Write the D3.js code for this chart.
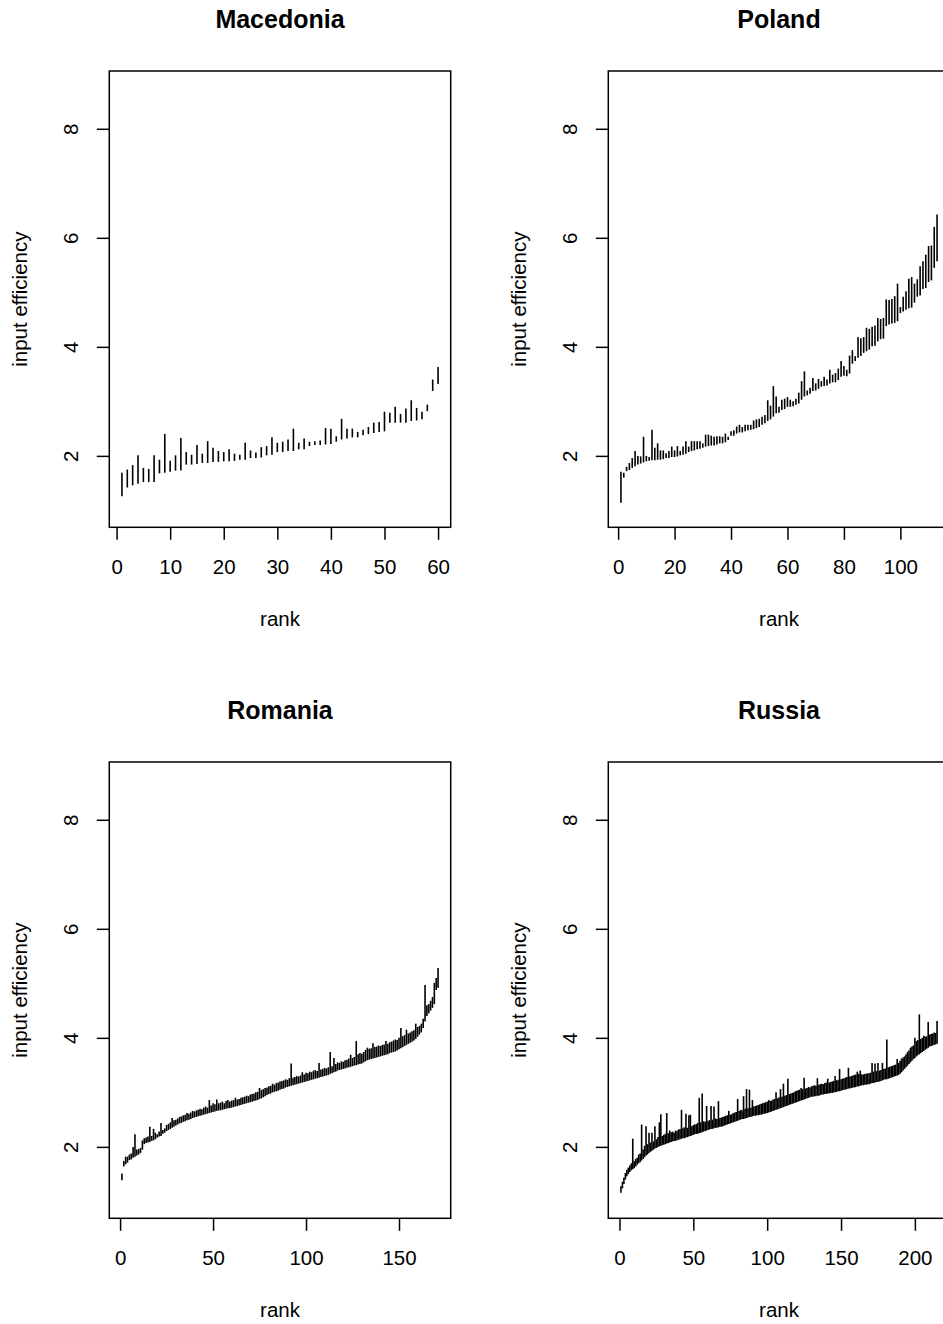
<!DOCTYPE html>
<html>
<head>
<meta charset="utf-8">
<script src="https://cdn.jsdelivr.net/npm/d3@7"></script>
<style>
  html, body { margin: 0; padding: 0; background: #fff; overflow: hidden; }
  svg { display: block; font-family: "Liberation Sans", Arial, Helvetica, sans-serif; }
</style>
</head>
<body>
<svg id="chart" width="943" height="1324"></svg>
<script>
// Interval per rank: lower / upper input efficiency

const countries = ["Macedonia", "Poland", "Romania", "Russia"]

const macedoniaLo = [
  1.26, 1.42, 1.46, 1.49, 1.52, 1.52, 1.52, 1.68, 1.69, 1.71,
  1.73, 1.73, 1.84, 1.84, 1.85, 1.87, 1.87, 1.89, 1.89, 1.90,
  1.90, 1.91, 1.93, 1.93, 1.96, 1.96, 1.97, 2.01, 2.02, 2.07,
  2.07, 2.09, 2.09, 2.12, 2.12, 2.18, 2.20, 2.20, 2.21, 2.22,
  2.26, 2.30, 2.32, 2.34, 2.34, 2.38, 2.40, 2.42, 2.44, 2.45,
  2.61, 2.61, 2.61, 2.61, 2.64, 2.65, 2.67, 2.82, 3.19, 3.32
]
const macedoniaHi = [
  1.69, 1.75, 1.83, 2.01, 1.78, 1.76, 2.01, 1.93, 2.40, 1.91,
  2.01, 2.33, 2.07, 2.02, 2.20, 2.04, 2.27, 2.15, 2.09, 2.07,
  2.12, 2.04, 2.02, 2.24, 2.10, 2.06, 2.16, 2.18, 2.34, 2.24,
  2.26, 2.30, 2.50, 2.24, 2.32, 2.26, 2.27, 2.28, 2.51, 2.50,
  2.36, 2.68, 2.50, 2.50, 2.44, 2.48, 2.53, 2.61, 2.62, 2.81,
  2.79, 2.90, 2.77, 2.87, 3.02, 2.88, 2.81, 2.94, 3.40, 3.63
]

const polandLo = [
  1.14, 1.60, 1.72, 1.74, 1.78, 1.81, 1.84, 1.86, 1.88, 1.90,
  1.91, 1.92, 1.92, 1.93, 1.93, 1.94, 1.96, 1.96, 1.98, 1.98,
  1.99, 2.01, 2.02, 2.04, 2.07, 2.09, 2.10, 2.12, 2.13, 2.15,
  2.17, 2.18, 2.19, 2.19, 2.21, 2.23, 2.23, 2.25, 2.29, 2.37,
  2.37, 2.41, 2.43, 2.43, 2.45, 2.47, 2.48, 2.49, 2.51, 2.53,
  2.57, 2.60, 2.64, 2.67, 2.72, 2.78, 2.79, 2.84, 2.86, 2.90,
  2.90, 2.91, 2.94, 2.96, 3.03, 3.09, 3.11, 3.14, 3.19, 3.20,
  3.23, 3.27, 3.28, 3.29, 3.33, 3.35, 3.35, 3.39, 3.45, 3.47,
  3.46, 3.51, 3.69, 3.74, 3.80, 3.83, 3.89, 3.92, 3.95, 4.01,
  4.02, 4.10, 4.14, 4.15, 4.38, 4.41, 4.43, 4.44, 4.47, 4.62,
  4.65, 4.68, 4.71, 4.72, 4.81, 4.92, 4.94, 5.06, 5.08, 5.19,
  5.22, 5.45, 5.57
]
const polandHi = [
  1.71, 1.69, 1.80, 1.87, 1.96, 2.09, 2.00, 1.99, 2.35, 2.00,
  1.98, 2.48, 2.15, 2.23, 2.10, 2.10, 2.05, 2.09, 2.17, 2.10,
  2.18, 2.09, 2.17, 2.27, 2.17, 2.27, 2.27, 2.27, 2.27, 2.23,
  2.39, 2.39, 2.37, 2.35, 2.36, 2.36, 2.35, 2.41, 2.35, 2.45,
  2.47, 2.54, 2.57, 2.53, 2.57, 2.57, 2.57, 2.65, 2.67, 2.68,
  2.72, 2.75, 3.02, 2.92, 3.28, 3.09, 2.90, 3.03, 3.05, 3.08,
  3.03, 3.00, 3.05, 3.16, 3.37, 3.55, 3.20, 3.25, 3.43, 3.33,
  3.41, 3.37, 3.45, 3.40, 3.58, 3.49, 3.52, 3.60, 3.74, 3.65,
  3.58, 3.84, 3.94, 3.83, 4.18, 4.16, 4.18, 4.35, 4.33, 4.37,
  4.39, 4.53, 4.51, 4.53, 4.87, 4.86, 4.88, 4.93, 5.16, 4.73,
  4.92, 5.02, 5.25, 5.28, 5.16, 5.24, 5.48, 5.57, 5.69, 5.85,
  5.86, 6.20, 6.43
]

const romaniaLo = [
  1.39, 1.64, 1.68, 1.71, 1.76, 1.77, 1.80, 1.82, 1.84, 1.86,
  1.89, 1.95, 2.05, 2.07, 2.08, 2.09, 2.11, 2.12, 2.14, 2.17,
  2.19, 2.20, 2.24, 2.26, 2.29, 2.31, 2.33, 2.35, 2.37, 2.39,
  2.41, 2.43, 2.44, 2.46, 2.47, 2.49, 2.50, 2.51, 2.53, 2.54,
  2.55, 2.56, 2.57, 2.58, 2.59, 2.60, 2.61, 2.62, 2.63, 2.64,
  2.65, 2.66, 2.67, 2.67, 2.68, 2.69, 2.70, 2.71, 2.71, 2.72,
  2.73, 2.74, 2.75, 2.76, 2.77, 2.78, 2.79, 2.80, 2.81, 2.82,
  2.83, 2.84, 2.85, 2.86, 2.88, 2.89, 2.91, 2.93, 2.95, 2.97,
  2.98, 3.00, 3.01, 3.02, 3.03, 3.05, 3.06, 3.07, 3.09, 3.10,
  3.11, 3.12, 3.13, 3.14, 3.15, 3.16, 3.17, 3.18, 3.19, 3.20,
  3.21, 3.22, 3.23, 3.24, 3.25, 3.26, 3.27, 3.28, 3.29, 3.30,
  3.31, 3.32, 3.34, 3.35, 3.37, 3.38, 3.40, 3.41, 3.42, 3.43,
  3.44, 3.45, 3.46, 3.47, 3.48, 3.49, 3.50, 3.51, 3.52, 3.53,
  3.55, 3.57, 3.59, 3.60, 3.61, 3.62, 3.63, 3.64, 3.65, 3.66,
  3.67, 3.68, 3.69, 3.70, 3.72, 3.73, 3.74, 3.75, 3.77, 3.79,
  3.81, 3.83, 3.85, 3.87, 3.89, 3.91, 3.93, 3.95, 3.98, 4.02,
  4.06, 4.10, 4.18, 4.30, 4.40, 4.45, 4.50, 4.55, 4.62, 4.88,
  4.92
]
const romaniaHi = [
  1.51, 1.74, 1.82, 1.82, 1.86, 1.88, 2.00, 2.23, 1.95, 1.96,
  1.98, 2.12, 2.16, 2.17, 2.19, 2.37, 2.20, 2.33, 2.26, 2.23,
  2.28, 2.44, 2.31, 2.34, 2.40, 2.42, 2.45, 2.53, 2.49, 2.50,
  2.52, 2.55, 2.56, 2.58, 2.59, 2.62, 2.61, 2.63, 2.66, 2.65,
  2.67, 2.68, 2.70, 2.69, 2.72, 2.74, 2.72, 2.86, 2.76, 2.80,
  2.78, 2.87, 2.80, 2.81, 2.83, 2.80, 2.84, 2.86, 2.83, 2.85,
  2.86, 2.90, 2.87, 2.88, 2.90, 2.91, 2.92, 2.94, 2.93, 2.96,
  2.97, 2.98, 3.00, 3.01, 3.08, 3.04, 3.06, 3.08, 3.09, 3.11,
  3.12, 3.16, 3.14, 3.17, 3.18, 3.20, 3.21, 3.22, 3.24, 3.23,
  3.26, 3.53, 3.27, 3.28, 3.30, 3.29, 3.31, 3.37, 3.33, 3.36,
  3.35, 3.38, 3.37, 3.40, 3.41, 3.39, 3.54, 3.42, 3.43, 3.45,
  3.44, 3.46, 3.74, 3.48, 3.63, 3.52, 3.55, 3.54, 3.57, 3.56,
  3.59, 3.60, 3.62, 3.69, 3.63, 3.65, 3.94, 3.70, 3.72, 3.71,
  3.74, 3.78, 3.82, 3.80, 3.81, 3.90, 3.83, 3.84, 3.86, 3.85,
  3.87, 3.88, 3.94, 3.89, 3.92, 3.93, 3.95, 3.97, 3.96, 4.00,
  4.18, 4.03, 4.05, 4.15, 4.08, 4.10, 4.12, 4.14, 4.26, 4.20,
  4.22, 4.26, 4.35, 4.97, 4.60, 4.62, 4.68, 4.75, 5.01, 5.10,
  5.28
]

const russiaLo = [
  1.16, 1.24, 1.32, 1.40, 1.46, 1.50, 1.54, 1.57, 1.59, 1.61,
  1.64, 1.67, 1.70, 1.72, 1.75, 1.78, 1.81, 1.84, 1.86, 1.89,
  1.91, 1.93, 1.95, 1.97, 1.98, 2.00, 2.01, 2.02, 2.03, 2.04,
  2.05, 2.06, 2.07, 2.08, 2.09, 2.10, 2.11, 2.11, 2.12, 2.13,
  2.14, 2.15, 2.16, 2.16, 2.17, 2.18, 2.19, 2.20, 2.21, 2.22,
  2.23, 2.24, 2.24, 2.25, 2.26, 2.27, 2.28, 2.29, 2.30, 2.31,
  2.32, 2.33, 2.33, 2.34, 2.35, 2.35, 2.36, 2.37, 2.37, 2.38,
  2.39, 2.40, 2.41, 2.42, 2.43, 2.44, 2.45, 2.46, 2.47, 2.48,
  2.49, 2.50, 2.51, 2.51, 2.52, 2.53, 2.54, 2.55, 2.55, 2.56,
  2.57, 2.57, 2.58, 2.58, 2.59, 2.59, 2.60, 2.61, 2.61, 2.62,
  2.63, 2.64, 2.65, 2.66, 2.67, 2.68, 2.69, 2.70, 2.71, 2.72,
  2.73, 2.74, 2.75, 2.76, 2.77, 2.78, 2.79, 2.80, 2.81, 2.82,
  2.83, 2.84, 2.85, 2.86, 2.87, 2.88, 2.89, 2.90, 2.91, 2.92,
  2.92, 2.93, 2.93, 2.94, 2.94, 2.95, 2.96, 2.96, 2.97, 2.97,
  2.98, 2.98, 2.99, 2.99, 3.00, 3.00, 3.01, 3.02, 3.02, 3.03,
  3.04, 3.05, 3.05, 3.06, 3.07, 3.07, 3.08, 3.09, 3.09, 3.10,
  3.11, 3.11, 3.12, 3.13, 3.13, 3.14, 3.14, 3.15, 3.15, 3.16,
  3.17, 3.17, 3.18, 3.19, 3.19, 3.20, 3.21, 3.22, 3.23, 3.24,
  3.24, 3.25, 3.26, 3.27, 3.28, 3.29, 3.30, 3.31, 3.32, 3.34,
  3.37, 3.40, 3.43, 3.46, 3.49, 3.52, 3.55, 3.58, 3.61, 3.63,
  3.66, 3.68, 3.70, 3.72, 3.74, 3.76, 3.78, 3.80, 3.82, 3.84,
  3.85, 3.86, 3.87, 3.88, 3.89
]
const russiaHi = [
  1.28, 1.36, 1.44, 1.52, 1.58, 1.62, 1.66, 1.70, 2.15, 1.74,
  1.78, 1.80, 1.86, 1.88, 2.41, 1.95, 2.02, 2.38, 2.05, 2.26,
  2.08, 2.26, 2.10, 2.38, 2.14, 2.18, 2.45, 2.60, 2.20, 2.22,
  2.24, 2.62, 2.25, 2.30, 2.27, 2.28, 2.26, 2.30, 2.29, 2.32,
  2.33, 2.68, 2.34, 2.36, 2.61, 2.35, 2.58, 2.59, 2.38, 2.40,
  2.41, 2.42, 2.44, 2.90, 2.45, 2.98, 2.47, 2.46, 2.75, 2.48,
  2.49, 2.75, 2.50, 2.74, 2.52, 2.51, 2.84, 2.53, 2.54, 2.55,
  2.56, 2.57, 2.58, 2.66, 2.59, 2.60, 2.62, 2.63, 2.64, 2.88,
  2.66, 2.68, 2.67, 2.93, 2.70, 3.06, 2.71, 3.05, 2.72, 2.86,
  2.74, 2.75, 2.76, 2.77, 2.78, 2.79, 2.80, 2.81, 2.82, 2.83,
  2.86, 2.84, 2.85, 2.87, 2.88, 3.00, 2.89, 2.91, 3.06, 2.92,
  3.16, 2.94, 2.95, 3.25, 2.97, 2.98, 2.99, 3.00, 3.02, 3.03,
  3.04, 3.05, 3.08, 3.06, 3.27, 3.07, 3.08, 3.10, 3.09, 3.11,
  3.12, 3.13, 3.12, 3.26, 3.14, 3.15, 3.16, 3.15, 3.17, 3.18,
  3.25, 3.18, 3.19, 3.20, 3.21, 3.30, 3.22, 3.23, 3.43, 3.24,
  3.25, 3.26, 3.27, 3.28, 3.45, 3.29, 3.30, 3.31, 3.32, 3.33,
  3.38, 3.34, 3.40, 3.33, 3.33, 3.34, 3.34, 3.35, 3.35, 3.36,
  3.54, 3.38, 3.53, 3.39, 3.54, 3.40, 3.41, 3.54, 3.43, 3.44,
  3.97, 3.46, 3.47, 3.48, 3.49, 3.50, 3.51, 3.61, 3.54, 3.58,
  3.62, 3.64, 3.66, 3.70, 3.74, 3.77, 3.82, 3.84, 3.86, 4.00,
  3.94, 3.96, 4.43, 3.98, 4.00, 4.04, 4.02, 4.03, 4.29, 4.06,
  4.07, 4.08, 4.10, 4.09, 4.31
]

const xTickValues = [
  [0, 10, 20, 30, 40, 50, 60],
  [0, 20, 40, 60, 80, 100],
  [0, 50, 100, 150],
  [0, 50, 100, 150, 200]
]
const yTickValues = [2, 4, 6, 8]
const yLimits = [1.0, 8.75]

const lows = [macedoniaLo, polandLo, romaniaLo, russiaLo]
const highs = [macedoniaHi, polandHi, romaniaHi, russiaHi]

// R-style layout: 2x2 panels, plot box 341 x 456, 4% axis padding
const plotW = 341.4
const plotH = 456.3
const originX = 109.3
const originY = 71
const stepX = 499
const stepY = 691
const tickLen = 12.5

function pad([a, b]) {
  const d = (b - a) * 0.04
  return [a - d, b + d]
}

const svg = d3.select("#chart")

countries.forEach((name, k) => {
  const col = k % 2
  const row = Math.floor(k / 2)
  const lo = lows[k]
  const hi = highs[k]
  const n = lo.length

  const g = svg
    .append("g")
    .attr("transform", `translate(${originX + col * stepX},${originY + row * stepY})`)

  const x = d3.scaleLinear().domain(pad([1, n])).range([0, plotW])
  const y = d3.scaleLinear().domain(pad(yLimits)).range([plotH, 0])

  // intervals
  g.append("g")
    .selectAll("line")
    .data(d3.range(n))
    .join("line")
    .attr("x1", (i) => x(i + 1))
    .attr("x2", (i) => x(i + 1))
    .attr("y1", (i) => y(lo[i]))
    .attr("y2", (i) => y(hi[i]))
    .attr("stroke", "#000")
    .attr("stroke-width", 1.6)

  // box
  g.append("rect")
    .attr("width", plotW)
    .attr("height", plotH)
    .attr("fill", "none")
    .attr("stroke", "#000")
    .attr("stroke-width", 1.5)

  // x axis
  const xa = g
    .append("g")
    .attr("transform", `translate(0,${plotH})`)
    .call(d3.axisBottom(x).tickValues(xTickValues[k]).tickSize(tickLen).tickPadding(19.5))
  xa.select(".domain").remove()
  xa.selectAll("line").attr("stroke", "#000").attr("stroke-width", 1.5)
  xa.selectAll("text").attr("font-size", 20.5).attr("fill", "#000").attr("font-family", null)

  // y axis, labels parallel to the axis
  const ya = g
    .append("g")
    .call(d3.axisLeft(y).tickValues(yTickValues).tickSize(tickLen))
  ya.select(".domain").remove()
  ya.selectAll("line").attr("stroke", "#000").attr("stroke-width", 1.5)
  ya.selectAll("text")
    .attr("font-size", 20.5)
    .attr("fill", "#000")
    .attr("font-family", null)
    .attr("transform", "rotate(-90)")
    .attr("text-anchor", "middle")
    .attr("x", 0)
    .attr("y", -31.8)
    .attr("dy", null)

  // titles and axis labels
  g.append("text")
    .attr("x", plotW / 2)
    .attr("y", -43.5)
    .attr("text-anchor", "middle")
    .attr("font-size", 25)
    .attr("font-weight", "bold")
    .text(name)

  g.append("text")
    .attr("x", plotW / 2)
    .attr("y", plotH + 98.7)
    .attr("text-anchor", "middle")
    .attr("font-size", 20.5)
    .text("rank")

  g.append("text")
    .attr("transform", `translate(${-82},${plotH / 2}) rotate(-90)`)
    .attr("text-anchor", "middle")
    .attr("font-size", 20.5)
    .text("input efficiency")
})
</script>
</body>
</html>
